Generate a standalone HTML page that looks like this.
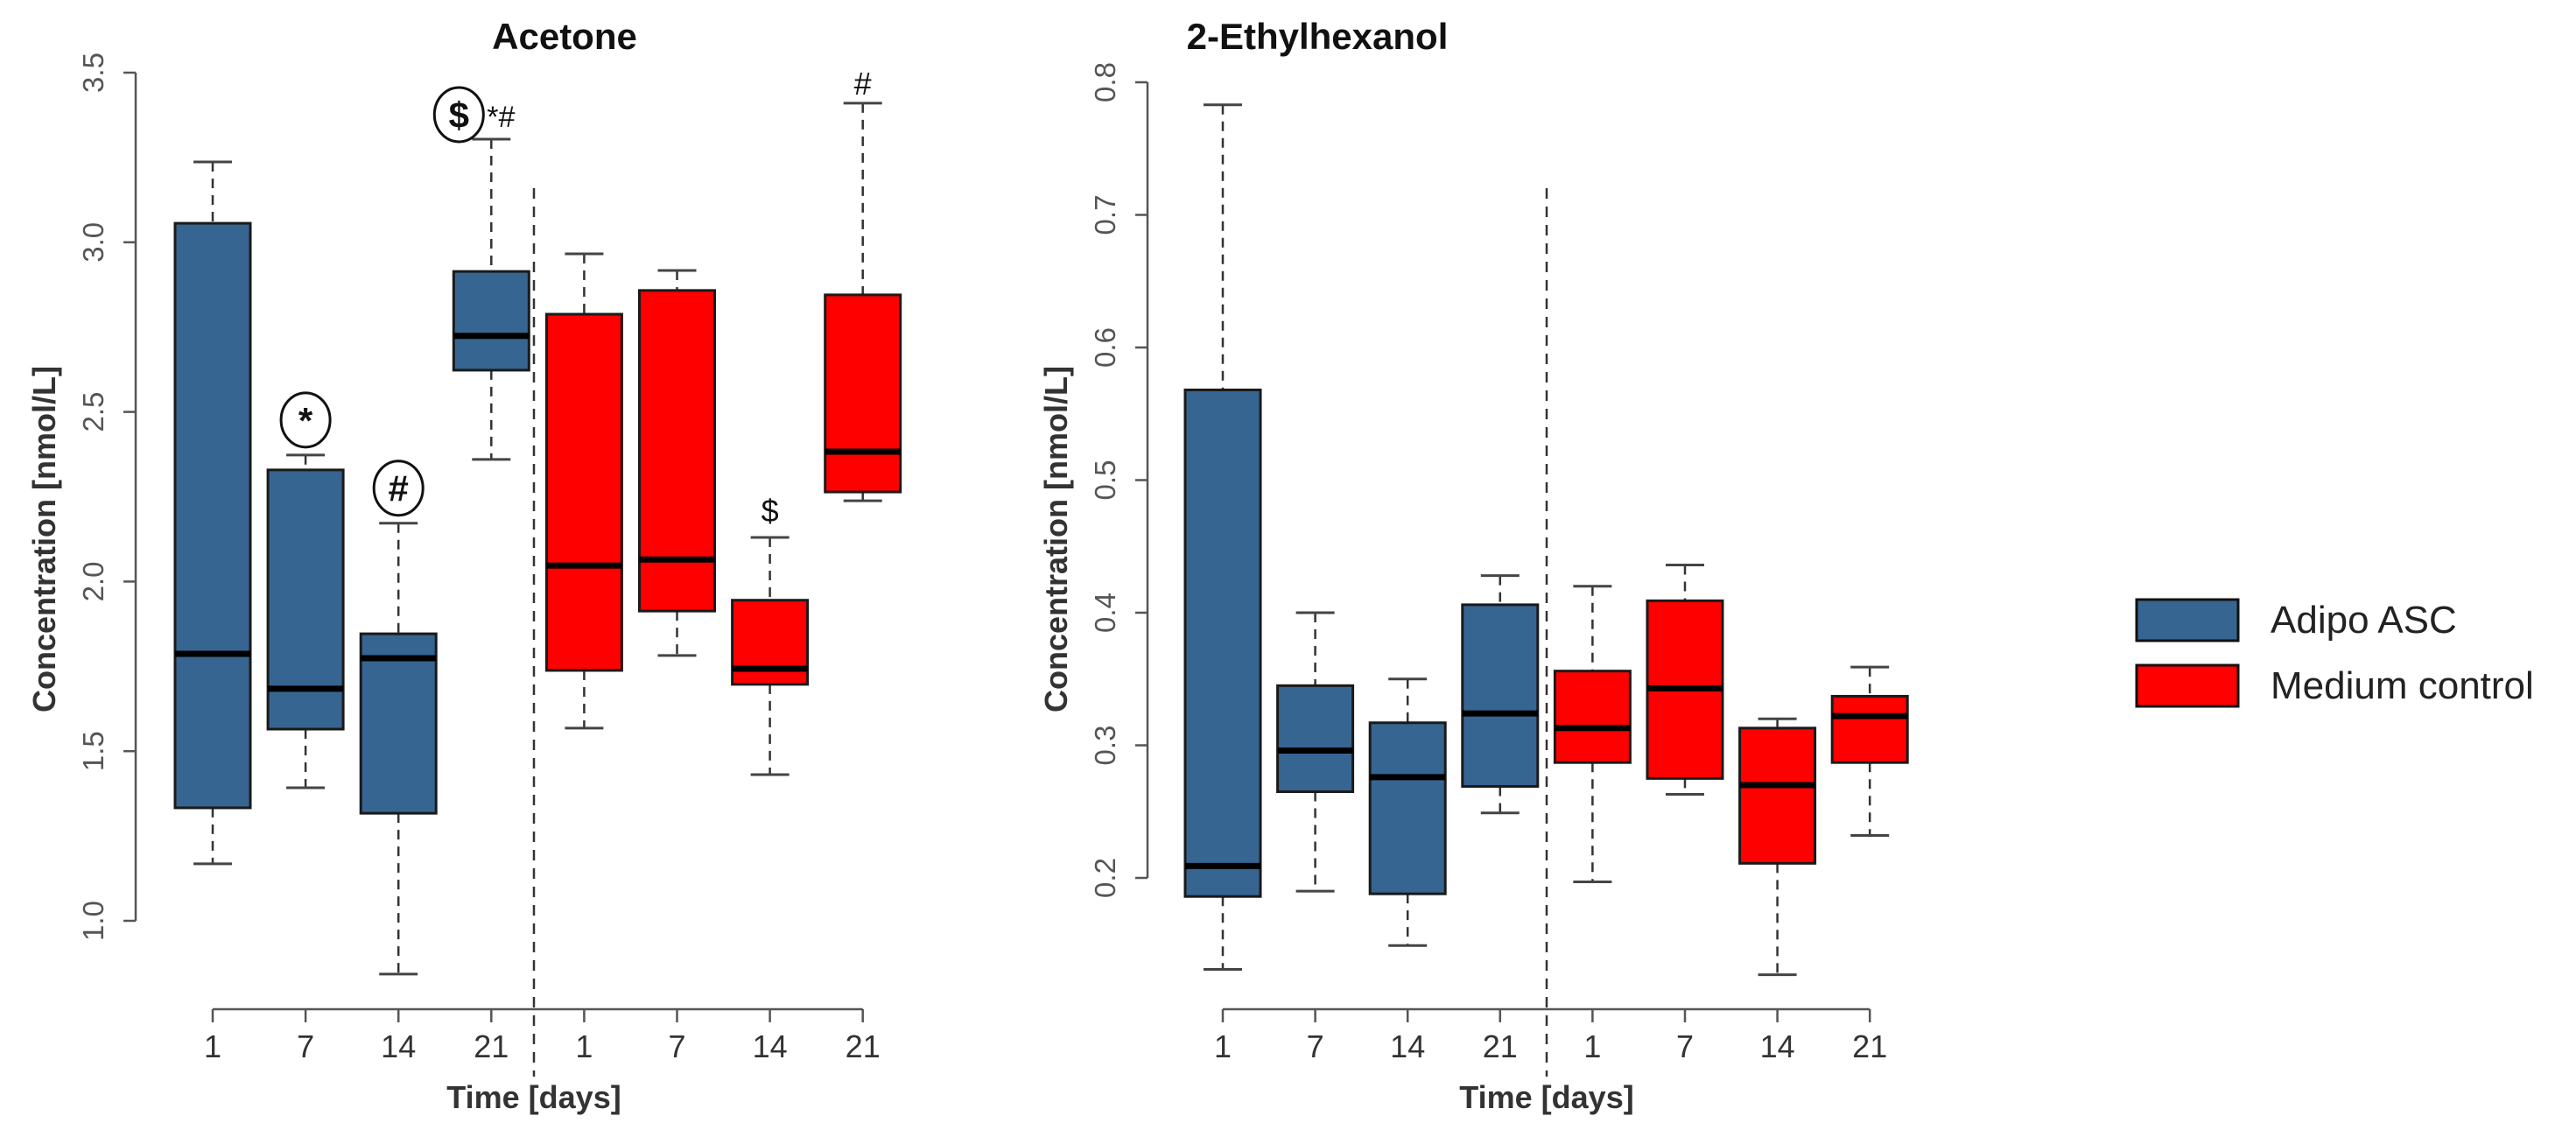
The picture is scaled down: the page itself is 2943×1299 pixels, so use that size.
<!DOCTYPE html>
<html><head><meta charset="utf-8"><style>
html,body{margin:0;padding:0;background:#fff;}
svg{display:block;}
text{font-family:"Liberation Sans",sans-serif;}
</style></head><body>
<svg id="chart" width="2943" height="1299" viewBox="0 0 2943 1299" xmlns="http://www.w3.org/2000/svg">
<rect x="0" y="0" width="2943" height="1299" fill="#fff"/>
<g id="legend">
  <g>
    <rect x="2441" y="685" width="116" height="47" fill="#376591" stroke="#111" stroke-width="3"/>
    <text x="2594" y="723" font-size="44" fill="#222">Adipo ASC</text>
  </g>
  <g>
    <rect x="2441" y="760" width="116" height="47" fill="#ff0000" stroke="#111" stroke-width="3"/>
    <text x="2594" y="798" font-size="44" fill="#222">Medium control</text>
  </g>
</g>
</svg>
<script>
const categories = ["1","7","14","21","1","7","14","21"];
const groups = ["adipo","adipo","adipo","adipo","medium","medium","medium","medium"];
// Acetone: [lower whisker, Q1, median, Q3, upper whisker]
const acetoneLow = [1.168,1.392,0.843,2.36,1.568,1.782,1.431,2.238];
const acetoneQ1  = [1.333,1.565,1.317,2.623,1.738,1.913,1.697,2.264];
const acetoneMed = [1.787,1.684,1.774,2.724,2.047,2.065,1.743,2.383];
const acetoneQ3  = [3.056,2.329,1.846,2.914,2.788,2.858,1.945,2.845];
const acetoneHigh= [3.237,2.373,2.172,3.304,2.966,2.917,2.13,3.41];
const acetoneTicks = [1.0,1.5,2.0,2.5,3.0,3.5];
// 2-Ethylhexanol
const ethLow = [0.131,0.19,0.149,0.249,0.197,0.263,0.127,0.232];
const ethQ1  = [0.186,0.265,0.188,0.269,0.287,0.275,0.211,0.287];
const ethMed = [0.209,0.296,0.276,0.324,0.313,0.343,0.270,0.322];
const ethQ3  = [0.568,0.345,0.317,0.406,0.356,0.409,0.313,0.337];
const ethHigh= [0.783,0.40,0.350,0.428,0.420,0.436,0.320,0.359];
const ethTicks = [0.2,0.3,0.4,0.5,0.6,0.7,0.8];

const NS="http://www.w3.org/2000/svg";
const svg=document.getElementById('chart');
const colors={adipo:"#376591",medium:"#ff0000"};
function mk(tag,attrs,parent){const e=document.createElementNS(NS,tag);for(const k in attrs)e.setAttribute(k,attrs[k]);(parent||svg).appendChild(e);return e;}

function drawPanel(cfg){
  const g=mk('g',{});
  
  
  const y=v=>cfg.y0+(cfg.vTop-v)*cfg.pxPerUnit;
  const x=i=>cfg.x0+i*cfg.step;
  const t=mk('text',{x:cfg.titleX,y:56,'font-size':42,'font-weight':'bold','text-anchor':'middle',fill:'#111'},g);
  t.textContent=cfg.title;
  
  
  const ya=mk('g',{},g);
  
  
  const tmin=Math.min(...cfg.ticks),tmax=Math.max(...cfg.ticks);
  mk('line',{x1:cfg.axisX,x2:cfg.axisX,y1:y(tmin),y2:y(tmax),stroke:'#555','stroke-width':2.5},ya);
  cfg.ticks.forEach(tv=>{
    mk('line',{x1:cfg.axisX-14,x2:cfg.axisX,y1:y(tv),y2:y(tv),stroke:'#555','stroke-width':2.5},ya);
    const lb=mk('text',{x:0,y:0,'font-size':33,'text-anchor':'middle',fill:'#555',transform:`translate(${cfg.axisX-37},${y(tv)}) rotate(-90)`},ya);
    lb.textContent=tv.toFixed(1);
    
    
  });
  const yt=mk('text',{x:0,y:0,'font-size':36,'font-weight':'bold','text-anchor':'middle',fill:'#333',transform:`translate(${cfg.axisX-92},${cfg.yTitleY}) rotate(-90)`},g);
  yt.textContent='Concentration [nmol/L]';
  
  
  const xa=mk('g',{},g);
  
  
  mk('line',{x1:x(0),x2:x(categories.length-1),y1:1153,y2:1153,stroke:'#555','stroke-width':2.5},xa);
  categories.forEach((c,i)=>{
    mk('line',{x1:x(i),x2:x(i),y1:1153,y2:1168,stroke:'#555','stroke-width':2.5},xa);
    const lb=mk('text',{x:x(i),y:1208,'font-size':36,'text-anchor':'middle',fill:'#333'},xa);
    lb.textContent=c;
    
    
  });
  const xt=mk('text',{x:cfg.divX,y:1266,'font-size':36,'font-weight':'bold','text-anchor':'middle',fill:'#333'},g);
  xt.textContent='Time [days]';
  
  
  const dv=mk('line',{x1:cfg.divX,x2:cfg.divX,y1:215,y2:1230,stroke:'#333','stroke-width':2.5,'stroke-dasharray':'12 9'},g);
  
  
  const hw=43,cw=22;
  categories.forEach((c,i)=>{
    const bg=mk('g',{},g);
    
    
    const cx=x(i);
    const lo=cfg.low[i],q1=cfg.q1[i],md=cfg.med[i],q3=cfg.q3[i],hi=cfg.high[i];
    mk('line',{x1:cx,x2:cx,y1:y(hi),y2:y(q3),stroke:'#333','stroke-width':2.5,'stroke-dasharray':'11 8'},bg);
    mk('line',{x1:cx,x2:cx,y1:y(q1),y2:y(lo),stroke:'#333','stroke-width':2.5,'stroke-dasharray':'11 8'},bg);
    mk('line',{x1:cx-cw,x2:cx+cw,y1:y(hi),y2:y(hi),stroke:'#444','stroke-width':3},bg);
    mk('line',{x1:cx-cw,x2:cx+cw,y1:y(lo),y2:y(lo),stroke:'#444','stroke-width':3},bg);
    mk('rect',{x:cx-hw,y:y(q3),width:2*hw,height:y(q1)-y(q3),fill:colors[groups[i]],stroke:'#1a1a1a','stroke-width':3},bg);
    mk('line',{x1:cx-hw,x2:cx+hw,y1:y(md),y2:y(md),stroke:'#000','stroke-width':7},bg);
  });
  return {x,y,g};
}

const L=drawPanel({name:'acetone',title:'Acetone',titleX:645,x0:243,step:106.1,axisX:155,y0:83,vTop:3.5,pxPerUnit:387.6,
  ticks:acetoneTicks,low:acetoneLow,q1:acetoneQ1,med:acetoneMed,q3:acetoneQ3,high:acetoneHigh,divX:610,yTitleY:616});
const R=drawPanel({name:'ethylhexanol',title:'2-Ethylhexanol',titleX:1505,x0:1397,step:105.6,axisX:1311,y0:94,vTop:0.8,pxPerUnit:1515,
  ticks:ethTicks,low:ethLow,q1:ethQ1,med:ethMed,q3:ethQ3,high:ethHigh,divX:1767,yTitleY:616});

function circ(cx,cy,sym,name){
  const a=mk('g',{},L.g);
  
  
  mk('ellipse',{cx:cx,cy:cy,rx:28,ry:31,fill:'none',stroke:'#111','stroke-width':3},a);
  const t=mk('text',{x:cx,y:cy+15,'font-size':42,'font-weight':'bold','text-anchor':'middle',fill:'#111'},a);
  t.textContent=sym;
  return a;
}
circ(L.x(1),L.y(acetoneHigh[1])-40,'*','annotation-star-day7');
circ(L.x(2),L.y(acetoneHigh[2])-40,'#','annotation-hash-day14');
const a4=circ(L.x(3)-37,L.y(acetoneHigh[3])-28,'$','annotation-dollar-day21');
const t4=mk('text',{x:L.x(3)-5,y:L.y(acetoneHigh[3])-14,'font-size':34,fill:'#111'},a4);
t4.textContent='*#';
const t5=mk('text',{x:L.x(6),y:L.y(acetoneHigh[6])-18,'font-size':36,'text-anchor':'middle',fill:'#111'},L.g);
t5.textContent='$';


const t6=mk('text',{x:L.x(7),y:L.y(acetoneHigh[7])-10,'font-size':36,'text-anchor':'middle',fill:'#111'},L.g);
t6.textContent='#';


</script>
</body></html>
